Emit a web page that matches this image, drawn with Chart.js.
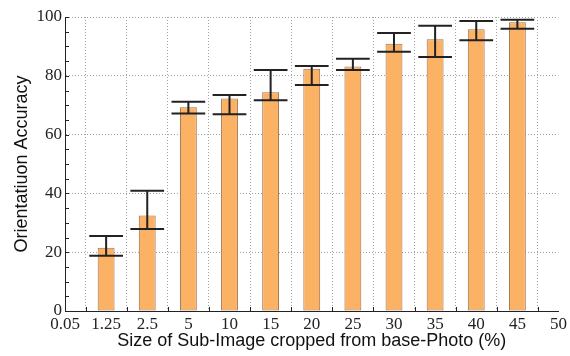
<!DOCTYPE html>
<html>
<head>
<meta charset="utf-8">
<script src="https://cdn.jsdelivr.net/npm/chart.js@4.4.1/dist/chart.umd.min.js"></script>
<style>
  body { margin: 0; background: #fff; }
  canvas { display: block; }
</style>
</head>
<body>
<canvas id="chart" width="570" height="356"></canvas>
<script>
// crop sizes (%), first and last are only axis labels
const sizes = ['0.05', '1.25', '2.5', '5', '10', '15', '20', '25', '30', '35', '40', '45', '50']
// mean accuracy per crop size
const accuracy = [null, 21.5, 32.5, 69.3, 72.3, 74.4, 82.4, 83.2, 90.9, 92.4, 95.8, 98.2, null]
// error bar ends
const errLow = [null, 18.8, 27.9, 67.2, 66.9, 71.7, 76.9, 82.0, 88.2, 86.4, 92.1, 96.0, null]
const errHigh = [null, 25.5, 40.9, 71.2, 73.5, 82.0, 83.3, 85.8, 94.6, 97.0, 98.6, 99.1, null]

const tickFont = { family: "'Liberation Serif', 'Times New Roman', Times, 'DejaVu Serif', serif", size: 17 }
const titleFont = { family: "'Liberation Sans', Arial, sans-serif", size: 18 }
const gridGray = '#a0a0a0'

// error bars drawn on top of the bars
const errorBars = {
  id: 'errorBars',
  afterDatasetsDraw(chart) {
    const ctx = chart.ctx
    const y = chart.scales.y
    const meta = chart.getDatasetMeta(0)
    ctx.save()
    ctx.strokeStyle = '#222'
    ctx.lineWidth = 2
    meta.data.forEach((bar, i) => {
      if (accuracy[i] == null) return
      const hi = y.getPixelForValue(errHigh[i])
      const lo = y.getPixelForValue(errLow[i])
      const half = bar.width
      ctx.beginPath()
      ctx.moveTo(bar.x, hi); ctx.lineTo(bar.x, lo)
      ctx.moveTo(bar.x - half, hi); ctx.lineTo(bar.x + half, hi)
      ctx.moveTo(bar.x - half, lo); ctx.lineTo(bar.x + half, lo)
      ctx.stroke()
    })
    ctx.restore()
  }
}

// small inward tick marks on left and bottom axes
const innerTicks = {
  id: 'innerTicks',
  afterDraw(chart) {
    const ctx = chart.ctx
    const { x, y } = chart.scales
    const area = chart.chartArea
    ctx.save()
    ctx.strokeStyle = '#222'
    ctx.lineWidth = 1
    ctx.beginPath()
    for (let v = 0; v <= 100; v += 5) {
      const py = Math.round(y.getPixelForValue(v)) + 0.5
      ctx.moveTo(area.left, py); ctx.lineTo(area.left + 4, py)
    }
    for (let i = 0; i < sizes.length - 1; i++) {
      const px = Math.round((x.getPixelForValue(i) + x.getPixelForValue(i + 1)) / 2) + 0.5
      ctx.moveTo(px, area.bottom); ctx.lineTo(px, area.bottom - 4)
    }
    ctx.stroke()
    ctx.restore()
  }
}

new Chart(document.getElementById('chart').getContext('2d'), {
  type: 'bar',
  data: {
    labels: sizes,
    datasets: [{
      data: accuracy,
      backgroundColor: 'rgb(252,178,100)',
      borderColor: 'rgb(160,112,75)',
      borderWidth: 1,
      borderSkipped: false,
      categoryPercentage: 1,
      barPercentage: 0.41
    }]
  },
  options: {
    responsive: false,
    animation: false,
    layout: { padding: { top: 17, right: 8 } },
    plugins: { legend: { display: false }, tooltip: { enabled: false } },
    scales: {
      x: {
        offset: false,
        afterFit: (s) => { s.height = 45 },
        grid: {
          drawTicks: false,
          color: (c) => c.index === 0 ? 'rgba(0,0,0,0)' : gridGray
        },
        border: { color: '#222', width: 1, dash: [1, 2] },
        ticks: { font: tickFont, color: '#222', padding: 3, maxRotation: 0, autoSkip: false },
        title: {
          display: true,
          text: 'Size of Sub-Image cropped from base-Photo (%)',
          font: titleFont,
          color: '#111',
          padding: { top: 0, bottom: 4 }
        }
      },
      y: {
        min: 0,
        max: 100,
        afterFit: (s) => { s.width = 65 },
        grid: {
          drawTicks: false,
          color: (c) => (c.tick && c.tick.value % 20 === 0 && c.tick.value > 0) ? gridGray : 'rgba(0,0,0,0)'
        },
        border: { color: '#222', width: 1, dash: [1, 2] },
        ticks: {
          stepSize: 5,
          font: tickFont,
          color: '#222',
          padding: 3,
          autoSkip: false,
          callback: (v) => v % 20 === 0 ? v : ''
        },
        title: {
          display: true,
          text: 'Orientatiuon Accuracy',
          font: titleFont,
          color: '#111',
          padding: { top: 11, bottom: 0 }
        }
      }
    }
  },
  plugins: [errorBars, innerTicks]
})
</script>
</body>
</html>
